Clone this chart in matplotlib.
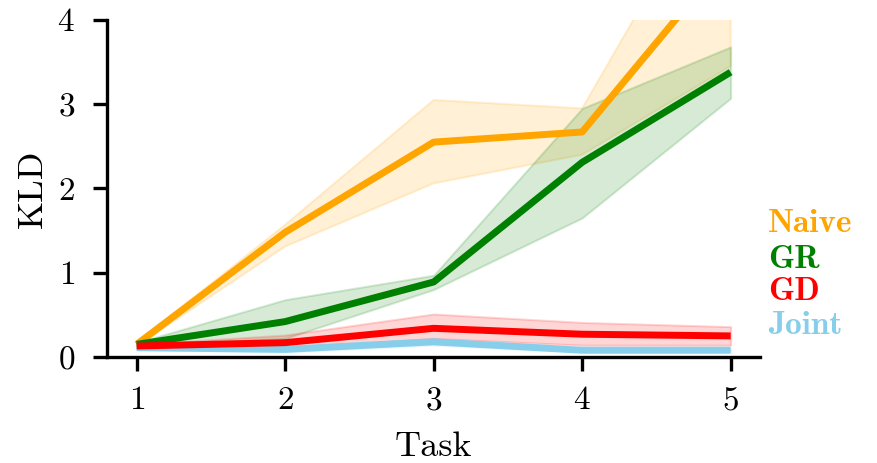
import matplotlib

matplotlib.use("Agg")
import matplotlib.pyplot as plt
import numpy as np

# data
tasks = [1, 2, 3, 4, 5]
names = ["Naive", "GR", "GD", "Joint"]
colors = ["#FFA500", "#008000", "#FF0000", "#87CEEB"]

naive_mean = [0.15, 1.48, 2.55, 2.67, 4.79]
naive_lo = [0.13, 1.31, 2.06, 2.40, 3.45]
naive_hi = [0.17, 1.57, 3.05, 2.95, 6.00]

gr_mean = [0.15, 0.42, 0.89, 2.31, 3.38]
gr_lo = [0.13, 0.22, 0.80, 1.65, 3.07]
gr_hi = [0.17, 0.68, 0.97, 2.95, 3.68]

gd_mean = [0.13, 0.17, 0.34, 0.27, 0.25]
gd_lo = [0.11, 0.10, 0.22, 0.14, 0.14]
gd_hi = [0.15, 0.26, 0.51, 0.41, 0.36]

joint_mean = [0.11, 0.09, 0.18, 0.08, 0.08]
joint_lo = [0.09, 0.06, 0.14, 0.06, 0.06]
joint_hi = [0.13, 0.12, 0.22, 0.10, 0.10]

plt.rcParams.update(
    {
        "font.family": ["cmr10", "DejaVu Serif"],
        "axes.formatter.use_mathtext": True,
        "axes.unicode_minus": False,
        "axes.linewidth": 2.4,
        "xtick.major.size": 10,
        "ytick.major.size": 10,
        "xtick.major.width": 2.4,
        "ytick.major.width": 2.4,
        "xtick.major.pad": 11,
        "ytick.major.pad": 13,
        "xtick.labelsize": 24,
        "ytick.labelsize": 24,
        "axes.labelsize": 26,
    }
)

fig = plt.figure(figsize=(8.77, 4.63), dpi=100)
ax = fig.add_axes([0.122, 0.229, 0.745, 0.728])

series = [
    (naive_mean, naive_lo, naive_hi),
    (gr_mean, gr_lo, gr_hi),
    (gd_mean, gd_lo, gd_hi),
    (joint_mean, joint_lo, joint_hi),
]

x = np.array(tasks)
for (m, lo, hi), c in zip(series, colors):
    ax.fill_between(x, lo, hi, color=c, alpha=0.16, linewidth=1.5)

# line order so GD sits on top of Joint
for idx in [0, 1, 3, 2]:
    ax.plot(x, series[idx][0], color=colors[idx], linewidth=5, solid_capstyle="butt")

ax.set_xlim(0.8, 5.2)
ax.set_ylim(0, 4)
ax.set_xticks(tasks)
ax.set_yticks([0, 1, 2, 3, 4])
ax.spines["top"].set_visible(False)
ax.spines["right"].set_visible(False)
ax.set_xlabel("Task", labelpad=12)
ax.set_ylabel("KLD", labelpad=6)

label_y = [224, 259, 292, 326]
for name, c, yy in zip(names, colors, label_y):
    fig.text(768 / 877, 1 - yy / 463, name, color=c, fontsize=24,
             family=["cmb10", "DejaVu Serif"], ha="left", va="center")

fig.savefig("out.png", dpi=100)
plt.close(fig)
